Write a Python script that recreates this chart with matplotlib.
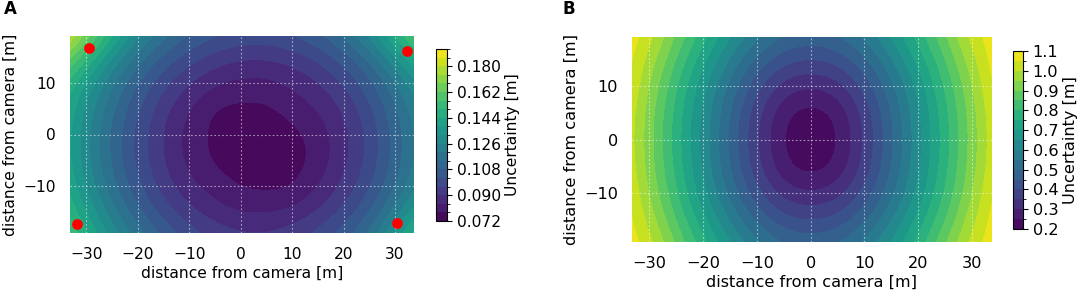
import numpy as np
import matplotlib
matplotlib.use("Agg")
import matplotlib.pyplot as plt
from matplotlib.colors import BoundaryNorm, ListedColormap

# ---------------- data ----------------
grid_x = [-35, -30, -25, -20, -15, -10, -5, 0, 5, 10, 15, 20, 25, 30, 35]
grid_y = [-20, -15, -10, -5, 0, 5, 10, 15, 20]

# Panel A: uncertainty [m] estimated at grid nodes (rows = grid_y, cols = grid_x)
unc_a = [
    [0.1646, 0.1469, 0.1316, 0.1189, 0.1086, 0.1009, 0.0956, 0.0929, 0.0926, 0.0949, 0.0996, 0.1069, 0.1166, 0.1369, 0.1556],
    [0.1553, 0.1376, 0.1223, 0.1096, 0.0993, 0.0916, 0.0863, 0.0836, 0.0833, 0.0856, 0.0903, 0.0976, 0.1073, 0.1216, 0.1403],
    [0.1490, 0.1313, 0.1160, 0.1033, 0.0930, 0.0853, 0.0815, 0.0773, 0.0765, 0.0768, 0.0835, 0.0913, 0.1010, 0.1133, 0.1280],
    [0.1457, 0.1280, 0.1127, 0.1000, 0.0897, 0.0820, 0.0767, 0.0740, 0.0735, 0.0745, 0.0800, 0.0880, 0.0977, 0.1100, 0.1247],
    [0.1454, 0.1277, 0.1124, 0.0997, 0.0894, 0.0812, 0.0760, 0.0737, 0.0734, 0.0757, 0.0804, 0.0877, 0.0974, 0.1097, 0.1244],
    [0.1481, 0.1304, 0.1151, 0.1024, 0.0915, 0.0838, 0.0768, 0.0762, 0.0765, 0.0805, 0.0840, 0.0904, 0.1001, 0.1124, 0.1271],
    [0.1538, 0.1361, 0.1208, 0.1081, 0.0978, 0.0901, 0.0848, 0.0821, 0.0822, 0.0848, 0.0892, 0.0961, 0.1058, 0.1181, 0.1348],
    [0.1725, 0.1508, 0.1315, 0.1168, 0.1065, 0.0988, 0.0935, 0.0908, 0.0905, 0.0928, 0.0975, 0.1048, 0.1155, 0.1318, 0.1495],
    [0.1912, 0.1715, 0.1482, 0.1305, 0.1182, 0.1105, 0.1052, 0.1025, 0.1022, 0.1045, 0.1092, 0.1175, 0.1302, 0.1485, 0.1682],
]

# Panel B: uncertainty [m] estimated at grid nodes
unc_b = [
    [1.099, 1.040, 0.908, 0.785, 0.675, 0.580, 0.518, 0.498, 0.518, 0.580, 0.675, 0.785, 0.908, 1.040, 1.099],
    [1.099, 0.988, 0.850, 0.718, 0.595, 0.488, 0.418, 0.398, 0.418, 0.488, 0.595, 0.718, 0.850, 0.988, 1.099],
    [1.095, 0.950, 0.808, 0.668, 0.535, 0.415, 0.325, 0.300, 0.325, 0.415, 0.535, 0.668, 0.808, 0.950, 1.095],
    [1.074, 0.928, 0.784, 0.640, 0.500, 0.362, 0.255, 0.218, 0.255, 0.362, 0.500, 0.640, 0.784, 0.928, 1.074],
    [1.069, 0.922, 0.776, 0.632, 0.490, 0.352, 0.238, 0.200, 0.238, 0.352, 0.490, 0.632, 0.776, 0.922, 1.069],
    [1.074, 0.928, 0.784, 0.640, 0.500, 0.362, 0.255, 0.218, 0.255, 0.362, 0.500, 0.640, 0.784, 0.928, 1.074],
    [1.095, 0.950, 0.808, 0.668, 0.535, 0.415, 0.325, 0.300, 0.325, 0.415, 0.535, 0.668, 0.808, 0.950, 1.095],
    [1.099, 0.988, 0.850, 0.718, 0.595, 0.488, 0.418, 0.398, 0.418, 0.488, 0.595, 0.718, 0.850, 0.988, 1.099],
    [1.099, 1.040, 0.908, 0.785, 0.675, 0.580, 0.518, 0.498, 0.518, 0.580, 0.675, 0.785, 0.908, 1.040, 1.099],
]

# camera positions (panel A)
cam_x = [-29.5, 32.4, -31.8, 30.4]
cam_y = [16.7, 16.2, -17.2, -17.1]

xticks = [-30, -20, -10, 0, 10, 20, 30]
yticks = [-10, 0, 10]
cbar_ticks_a = [0.072, 0.090, 0.108, 0.126, 0.144, 0.162, 0.180]
cbar_ticks_b = [0.2, 0.3, 0.4, 0.5, 0.6, 0.7, 0.8, 0.9, 1.0, 1.1]

xlabel = "distance from camera [m]"
ylabel = "distance from camera [m]"
cbar_label = "Uncertainty [m]"

# ---------------- figure ----------------
W, H = 1084, 296
fig = plt.figure(figsize=(W / 100, H / 100), dpi=100)


def frac(x0, x1, y0, y1):
    return [x0 / W, (H - y1) / H, (x1 - x0) / W, (y1 - y0) / H]


levels_a = np.linspace(0.072, 0.192, 21)
levels_b = np.linspace(0.2, 1.1, 19)


def panel(ax_rect, cax_rect, Z, levels, cticks, cfmt, fs, letter, letter_xy,
          tpad, lpad):
    ax = fig.add_axes(frac(*ax_rect))
    cax = fig.add_axes(frac(*cax_rect))
    mids = 0.5 * (levels[:-1] + levels[1:])
    cols = plt.get_cmap("viridis")((mids - levels[0]) / (levels[-1] - levels[0]))
    cmap = ListedColormap(cols)
    cmap.set_under(cols[0])
    cmap.set_over(cols[-1])
    norm = BoundaryNorm(levels, cmap.N)
    dx = (grid_x[1] - grid_x[0]) / 2
    dy = (grid_y[1] - grid_y[0]) / 2
    im = ax.imshow(np.array(Z), origin="lower", cmap=cmap, norm=norm,
                   extent=(grid_x[0] - dx, grid_x[-1] + dx, grid_y[0] - dy, grid_y[-1] + dy),
                   interpolation="bicubic", interpolation_stage="data", aspect="auto")
    ax.set_xlim(-33.2, 33.7)
    ax.set_ylim(-19.0, 19.0)
    ax.set_xticks(xticks)
    ax.set_yticks(yticks)
    ax.tick_params(length=0, labelsize=fs, pad=tpad)
    for s in ax.spines.values():
        s.set_visible(False)
    ax.grid(True, color="white", linestyle=(0, (1.5, 2.0)), linewidth=0.8, alpha=0.55)
    ax.set_xlabel(xlabel, fontsize=fs, labelpad=lpad)
    ax.set_ylabel(ylabel, fontsize=fs, labelpad=lpad + 1)
    cb = fig.colorbar(im, cax=cax)
    cb.set_ticks(cticks)
    cb.set_ticklabels([cfmt % t for t in cticks])
    cb.ax.tick_params(labelsize=fs, length=3.5, width=0.8)
    cb.set_label(cbar_label, fontsize=fs, labelpad=3)
    cb.outline.set_linewidth(0.8)
    fig.text(letter_xy[0] / W, 1 - letter_xy[1] / H, letter, fontsize=12,
             fontweight="bold", ha="center", va="center")
    return ax


axA = panel((70, 414, 36, 233), (436, 447, 49, 221), unc_a, levels_a,
            cbar_ticks_a, "%.3f", 11.2, "A", (10, 9), 10, 3)
axA.scatter(cam_x, cam_y, s=60, color="red", zorder=5, clip_on=False, linewidths=0)

axB = panel((632, 992, 37, 242), (1013, 1023, 51, 229), unc_b, levels_b,
            cbar_ticks_b, "%.1f", 11.6, "B", (569, 9), 10, 3)

fig.savefig("out.png", dpi=100)
